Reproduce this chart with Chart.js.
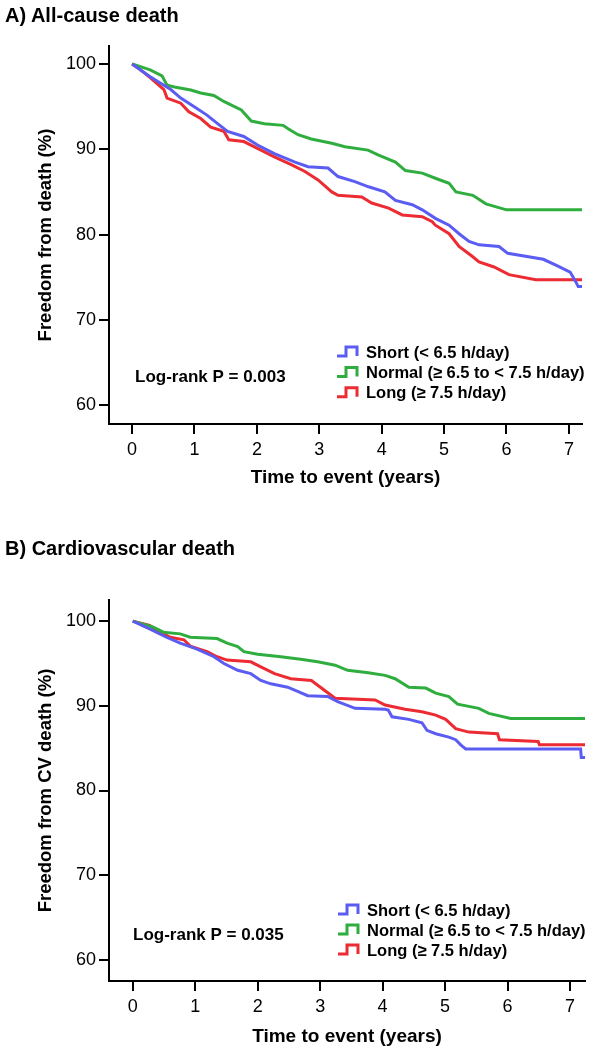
<!DOCTYPE html>
<html>
<head>
<meta charset="utf-8">
<script src="https://cdn.jsdelivr.net/npm/chart.js@4.4.1/dist/chart.umd.min.js"></script>
<style>
  body { margin: 0; background: #fff; font-family: Arial, "Liberation Sans", sans-serif; }
  .panel { position: relative; width: 594px; height: 525px; }
  .panel h2 { position: absolute; left: 5px; margin: 0; font-size: 20px; line-height: 22px; font-weight: bold; color: #000; z-index: 2; }
  .panel canvas { position: absolute; left: 0; top: 0; }
</style>
</head>
<body>
<div class="panel">
  <h2 style="top:4px">A) All-cause death</h2>
  <canvas id="chartA" width="594" height="525"></canvas>
</div>
<div class="panel">
  <h2 style="top:12px">B) Cardiovascular death</h2>
  <canvas id="chartB" width="594" height="525"></canvas>
</div>
<script>
// tick labels
const xTicks = [0, 1, 2, 3, 4, 5, 6, 7];
const yTicks = [60, 70, 80, 90, 100];

const groupLabels = ['Short (< 6.5 h/day)', 'Normal (≥ 6.5 to < 7.5 h/day)', 'Long (≥ 7.5 h/day)'];
const groupColors = ['#5b5cf2', '#2fae3f', '#ec2b33'];

// A) all-cause death, years / freedom from death (%)
const allShortT = [0, 0.29, 0.62, 0.78, 0.99, 1.2, 1.37, 1.53, 1.79, 2.01, 2.28, 2.61, 2.82, 3.14, 3.3, 3.57, 3.79, 4.05, 4.22, 4.49, 4.65, 4.86, 5.08, 5.24, 5.4, 5.56, 5.88, 6.02, 6.59, 6.8, 7.02, 7.1, 7.15, 7.21];
const allShortS = [100, 98.5, 97, 96, 95, 94, 93, 92.1, 91.5, 90.5, 89.5, 88.5, 87.95, 87.8, 86.8, 86.2, 85.6, 85.0, 84.0, 83.5, 82.9, 81.9, 81.1, 80.1, 79.2, 78.8, 78.6, 77.8, 77.1, 76.4, 75.6, 74.6, 73.9, 73.9];
const allNormalT = [0, 0.29, 0.48, 0.56, 0.68, 0.94, 1.1, 1.31, 1.47, 1.75, 1.91, 2.12, 2.42, 2.5, 2.66, 2.87, 3.2, 3.41, 3.78, 3.95, 4.22, 4.38, 4.65, 4.86, 5.08, 5.19, 5.46, 5.67, 6.0, 7.21];
const allNormalS = [100, 99.3, 98.6, 97.5, 97.3, 96.95, 96.6, 96.3, 95.6, 94.6, 93.3, 93.0, 92.8, 92.4, 91.7, 91.2, 90.7, 90.3, 89.9, 89.3, 88.5, 87.5, 87.2, 86.6, 86.0, 85.0, 84.6, 83.6, 82.9, 82.9];
const allLongT = [0, 0.1, 0.29, 0.51, 0.56, 0.78, 0.91, 1.1, 1.26, 1.47, 1.55, 1.79, 2.01, 2.28, 2.55, 2.77, 2.98, 3.2, 3.3, 3.68, 3.84, 4.11, 4.33, 4.65, 4.81, 4.86, 5.08, 5.24, 5.46, 5.56, 5.8, 6.04, 6.47, 7.21];
const allLongS = [100, 99.5, 98.4, 97, 96, 95.4, 94.4, 93.6, 92.6, 92.1, 91.1, 90.9, 90.1, 89.1, 88.2, 87.4, 86.4, 85.0, 84.6, 84.4, 83.7, 83.1, 82.3, 82.1, 81.5, 81.1, 80.1, 78.6, 77.4, 76.8, 76.2, 75.3, 74.7, 74.7];

// B) cardiovascular death, years / freedom from CV death (%)
const cvShortT = [0, 0.27, 0.54, 0.76, 1.03, 1.3, 1.46, 1.68, 1.89, 2.05, 2.21, 2.48, 2.64, 2.8, 3.12, 3.28, 3.56, 4.04, 4.09, 4.15, 4.42, 4.63, 4.71, 4.85, 5.06, 5.17, 5.25, 5.33, 7.17, 7.18, 7.24];
const cvShortS = [100, 99.1, 98.1, 97.4, 96.7, 95.8, 95.0, 94.2, 93.8, 93.0, 92.6, 92.2, 91.7, 91.2, 91.1, 90.5, 89.7, 89.6, 89.5, 88.7, 88.4, 88.0, 87.1, 86.7, 86.3, 86.0, 85.4, 84.9, 84.9, 83.9, 83.9];
const cvNormalT = [0, 0.33, 0.49, 0.76, 0.92, 1.35, 1.51, 1.68, 1.78, 2.0, 2.37, 2.69, 2.96, 3.24, 3.44, 3.77, 4.04, 4.2, 4.42, 4.69, 4.85, 5.06, 5.2, 5.54, 5.7, 6.05, 7.24];
const cvNormalS = [100, 99.3, 98.7, 98.5, 98.1, 97.95, 97.4, 97.0, 96.4, 96.1, 95.8, 95.5, 95.2, 94.8, 94.2, 93.9, 93.6, 93.2, 92.2, 92.1, 91.5, 91.1, 90.2, 89.7, 89.1, 88.5, 88.5];
const cvLongT = [0, 0.27, 0.44, 0.6, 0.82, 0.92, 1.19, 1.35, 1.51, 1.89, 2.05, 2.27, 2.53, 2.86, 3.02, 3.24, 3.88, 4.04, 4.36, 4.63, 4.85, 5.01, 5.17, 5.38, 5.84, 5.87, 6.49, 6.51, 7.24];
const cvLongS = [100, 99.5, 98.7, 98.1, 97.8, 97.05, 96.4, 95.8, 95.4, 95.2, 94.6, 93.8, 93.2, 93.0, 92.1, 90.9, 90.7, 90.1, 89.6, 89.3, 88.9, 88.4, 87.3, 86.9, 86.7, 86.0, 85.8, 85.4, 85.4];

Chart.defaults.font.family = 'Arial, "Liberation Sans", sans-serif';
Chart.defaults.color = '#000';

const toPoints = (t, s) => t.map((v, i) => ({ x: v, y: s[i] }));

// legend with step icons + log-rank text, placed inside the plot area
const kmLegend = {
  id: 'kmLegend',
  afterDraw(chart, args, opts) {
    const { ctx, chartArea } = chart;
    ctx.save();
    ctx.textBaseline = 'middle';
    ctx.font = 'bold 16.5px Arial, "Liberation Sans", sans-serif';
    chart.data.datasets.forEach((ds, i) => {
      const x = chartArea.left + opts.x;
      const y = chartArea.top + opts.y + i * opts.rowH;
      ctx.strokeStyle = ds.borderColor;
      ctx.lineWidth = 3;
      ctx.beginPath();
      ctx.moveTo(x, y + 4);
      ctx.lineTo(x + 9, y + 4);
      ctx.lineTo(x + 9, y - 5);
      ctx.lineTo(x + 20, y - 5);
      ctx.lineTo(x + 20, y + 4);
      ctx.stroke();
      ctx.fillStyle = '#000';
      ctx.fillText(ds.label, x + 29, y + 1);
    });
    ctx.font = 'bold 17px Arial, "Liberation Sans", sans-serif';
    ctx.fillText(opts.pText, chartArea.left + opts.px, chartArea.top + opts.py);
    ctx.restore();
  }
};

function axisStyle() {
  return {
    grid: { drawOnChartArea: false, drawTicks: true, tickLength: 10, color: '#000', lineWidth: 2 },
    border: { display: true, color: '#000', width: 2 }
  };
}

function makeChart(id, series, opt) {
  const ctx = document.getElementById(id);
  return new Chart(ctx, {
    type: 'line',
    data: {
      datasets: series.map((pts, i) => ({
        label: groupLabels[i],
        data: pts,
        borderColor: groupColors[i],
        backgroundColor: groupColors[i],
        borderWidth: 3,
        pointRadius: 0,
        fill: false,
        tension: 0
      }))
    },
    options: {
      responsive: false,
      animation: false,
      events: [],
      layout: { padding: { top: opt.top, right: opt.right, left: 0, bottom: 0 } },
      scales: {
        x: {
          type: 'linear',
          min: opt.xMin,
          max: opt.xMax,
          afterBuildTicks: s => { s.ticks = xTicks.map(v => ({ value: v })); },
          afterFit: s => { s.height = opt.xHeight; },
          ...axisStyle(),
          ticks: { font: { size: 18 }, padding: 5, maxRotation: 0, autoSkip: false },
          title: { display: true, text: 'Time to event (years)', font: { size: 19, weight: 'bold' }, padding: { top: 0, bottom: opt.xTitlePad } }
        },
        y: {
          min: opt.yMin,
          max: opt.yMax,
          afterBuildTicks: s => { s.ticks = yTicks.map(v => ({ value: v })); },
          afterFit: s => { s.width = 109; },
          ...axisStyle(),
          ticks: { font: { size: 18 }, padding: 3 },
          title: { display: true, text: opt.yTitle, font: { size: 18.5, weight: 'bold' }, padding: { top: 35, bottom: 0 } }
        }
      },
      plugins: {
        legend: { display: false },
        tooltip: { enabled: false },
        kmLegend: opt.legend
      }
    },
    plugins: [kmLegend]
  });
}

makeChart('chartA',
  [toPoints(allShortT, allShortS), toPoints(allNormalT, allNormalS), toPoints(allLongT, allLongS)],
  {
    top: 46, right: 12, xHeight: 101, xTitlePad: 36,
    xMin: -0.37, xMax: 7.21, yMin: 57.8, yMax: 102.1,
    yTitle: 'Freedom from death (%)',
    legend: { x: 228, y: 306, rowH: 20.4, px: 26, py: 331, pText: 'Log-rank P = 0.003' }
  });

makeChart('chartB',
  [toPoints(cvShortT, cvShortS), toPoints(cvNormalT, cvNormalS), toPoints(cvLongT, cvLongS)],
  {
    top: 75, right: 9, xHeight: 69, xTitlePad: 2,
    xMin: -0.38, xMax: 7.24, yMin: 57.5, yMax: 102.5,
    yTitle: 'Freedom from CV death (%)',
    legend: { x: 229, y: 310, rowH: 20, px: 24, py: 335, pText: 'Log-rank P = 0.035' }
  });
</script>
</body>
</html>
